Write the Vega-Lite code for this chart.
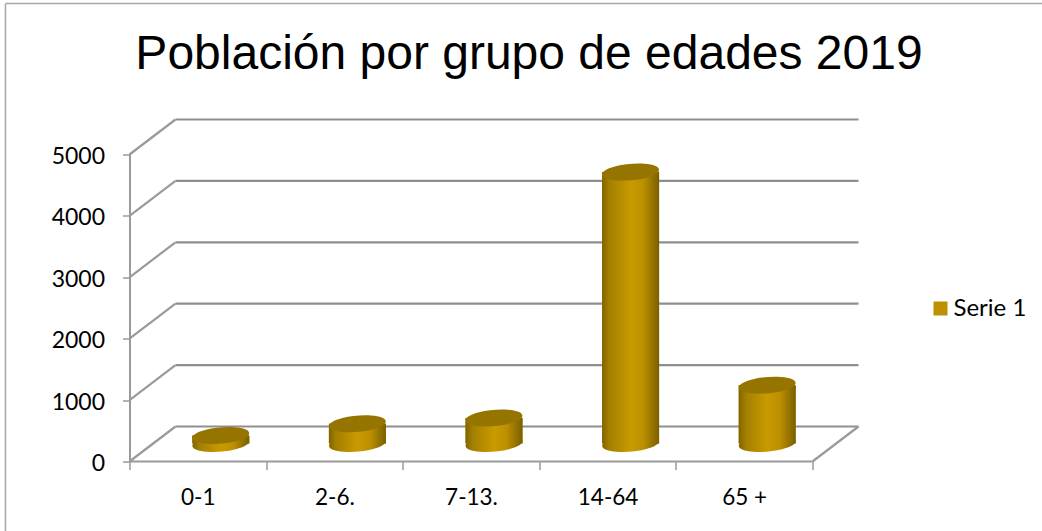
{
"$schema":"https://vega.github.io/schema/vega-lite/v6.json",
"autosize":{"type":"none"},
"width":683,"height":307,
"padding":{"left":129.5,"top":154.5,"right":229.5,"bottom":69.5},
"background":"white",
"title":{"text":"Población por grupo de edades 2019","font":"Liberation Sans","fontSize":48,"fontWeight":"normal","color":"#000000","anchor":"middle","frame":"group","dx":58,"offset":-76},
"config":{"view":{"stroke":null}},
"datasets":{
"grupos":[
{"grupo":"0-1","valor":130,"serie":"Serie 1"},
{"grupo":"2-6.","valor":320,"serie":"Serie 1"},
{"grupo":"7-13.","valor":415,"serie":"Serie 1"},
{"grupo":"14-64","valor":4420,"serie":"Serie 1"},
{"grupo":"65 +","valor":950,"serie":"Serie 1"}],
"rejilla":[{"nivel":0},{"nivel":1000},{"nivel":2000},{"nivel":3000},{"nivel":4000},{"nivel":5000}]
},
"layer":[
{"mark":{"type":"rule","color":"#a6a6a6","strokeWidth":1.5},
 "data":{"values":[{"a":1}]},
 "encoding":{"x":{"datum":-0.908,"type":"quantitative","scale":{"domain":[0,5],"nice":false,"zero":false},"axis":null},"x2":{"datum":7},
 "y":{"datum":7459,"type":"quantitative","scale":{"domain":[0,5000],"nice":false},"axis":{"values":[0,1000,2000,3000,4000,5000],"format":"d","title":null,"grid":false,"domainColor":"#9a9a9a","domainWidth":2,"tickColor":"#9a9a9a","tickWidth":1.5,"tickSize":7,"labelFont":"Lato","labelFontSize":23,"labelColor":"#000000","labelPadding":18,"labelOffset":2}}}},
{"mark":{"type":"rule","color":"#a6a6a6","strokeWidth":1.5},
 "data":{"values":[{"a":1}]},
 "encoding":{"x":{"datum":-0.908,"type":"quantitative","scale":{"domain":[0,5],"nice":false,"zero":false},"axis":null},
 "y":{"datum":7459,"type":"quantitative"},"y2":{"datum":-1132}}},
{"mark":{"type":"rule","color":"#8f8f8f","strokeWidth":2.2,"xOffset":46,"x2Offset":46,"yOffset":-35,"y2Offset":-35},
 "data":{"name":"rejilla"},
 "encoding":{"x":{"datum":0,"type":"quantitative","scale":{"domain":[0,5],"nice":false,"zero":false},"axis":null},"x2":{"datum":5},"y":{"field":"nivel","type":"quantitative"}}},
{"mark":{"type":"rule","color":"#9a9a9a","strokeWidth":2.2,"x2Offset":46,"y2Offset":-35},
 "data":{"name":"rejilla"},
 "encoding":{"x":{"datum":0,"type":"quantitative","scale":{"domain":[0,5],"nice":false,"zero":false},"axis":null},"x2":{"datum":0},"y":{"field":"nivel","type":"quantitative"},"y2":{"field":"nivel"}}},
{"mark":{"type":"rule","color":"#9a9a9a","strokeWidth":2.2,"x2Offset":46,"y2Offset":-35},
 "data":{"values":[{"nivel":0}]},
 "encoding":{"x":{"datum":5,"type":"quantitative","scale":{"domain":[0,5],"nice":false,"zero":false},"axis":null},"x2":{"datum":5},"y":{"field":"nivel","type":"quantitative"},"y2":{"field":"nivel"}}},
{"mark":{"type":"rule","color":"#9a9a9a","strokeWidth":2.2},
 "data":{"values":[{"nivel":0}]},
 "encoding":{"x":{"datum":0,"type":"quantitative","scale":{"domain":[0,5],"nice":false,"zero":false},"axis":null},"x2":{"datum":5},"y":{"field":"nivel","type":"quantitative"}}},
{"data":{"name":"grupos"},
 "encoding":{"x":{"field":"grupo","type":"nominal","sort":null,"scale":{"type":"band","paddingInner":0,"paddingOuter":0},
   "axis":{"title":null,"labelAngle":0,"tickBand":"extent","domain":false,"tickColor":"#9a9a9a","tickWidth":1.5,"tickSize":8,"labelFont":"Lato","labelFontSize":22.5,"labelColor":"#000000","labelPadding":17}}},
 "layer":[
 {"mark":{"type":"bar","width":57,"xOffset":23,"yOffset":-18,"y2Offset":-18},
  "encoding":{"y":{"field":"valor","type":"quantitative"},"y2":{"datum":0},
   "color":{"field":"serie","type":"nominal","scale":{"range":["#bf9000"]},
    "legend":{"title":null,"orient":"none","legendX":799,"legendY":142,"symbolType":"square","symbolSize":196,"symbolStrokeWidth":0,"labelFont":"Lato","labelFontSize":24,"labelColor":"#000000","labelOffset":1}}}},
 {"mark":{"type":"point","filled":true,"opacity":1,"strokeWidth":0,"size":3249,"xOffset":23,"yOffset":-18,
   "shape":"M-0.996,0.087 A1,0.28 -5 1 1 0.996,-0.087 A1,0.28 -5 1 1 -0.996,0.087 Z",
   "fill":{"gradient":"linear","x1":0,"y1":0,"x2":1,"y2":0,"stops":[{"offset":0,"color":"#7f6300"},{"offset":0.12,"color":"#a37f00"},{"offset":0.5,"color":"#c99a00"},{"offset":0.72,"color":"#bd9000"},{"offset":1,"color":"#7a5f00"}]}},
  "encoding":{"y":{"datum":0,"type":"quantitative"}}},
 {"mark":{"type":"bar","width":57,"xOffset":23,"yOffset":-18,"y2Offset":-18,
   "fill":{"gradient":"linear","x1":0,"y1":0,"x2":1,"y2":0,"stops":[{"offset":0,"color":"#7f6300"},{"offset":0.12,"color":"#a37f00"},{"offset":0.5,"color":"#c99a00"},{"offset":0.72,"color":"#bd9000"},{"offset":1,"color":"#7a5f00"}]}},
  "encoding":{"y":{"field":"valor","type":"quantitative"},"y2":{"datum":0}}},
 {"mark":{"type":"point","filled":true,"opacity":1,"strokeWidth":0,"size":3249,"xOffset":23,"yOffset":-18,"fill":"#957400",
   "shape":"M-0.996,0.087 A1,0.28 -5 1 1 0.996,-0.087 A1,0.28 -5 1 1 -0.996,0.087 Z"},
  "encoding":{"y":{"field":"valor","type":"quantitative"}}}
 ]}
],
"resolve":{"scale":{"x":"independent"},"axis":{"x":"independent"}}
}
